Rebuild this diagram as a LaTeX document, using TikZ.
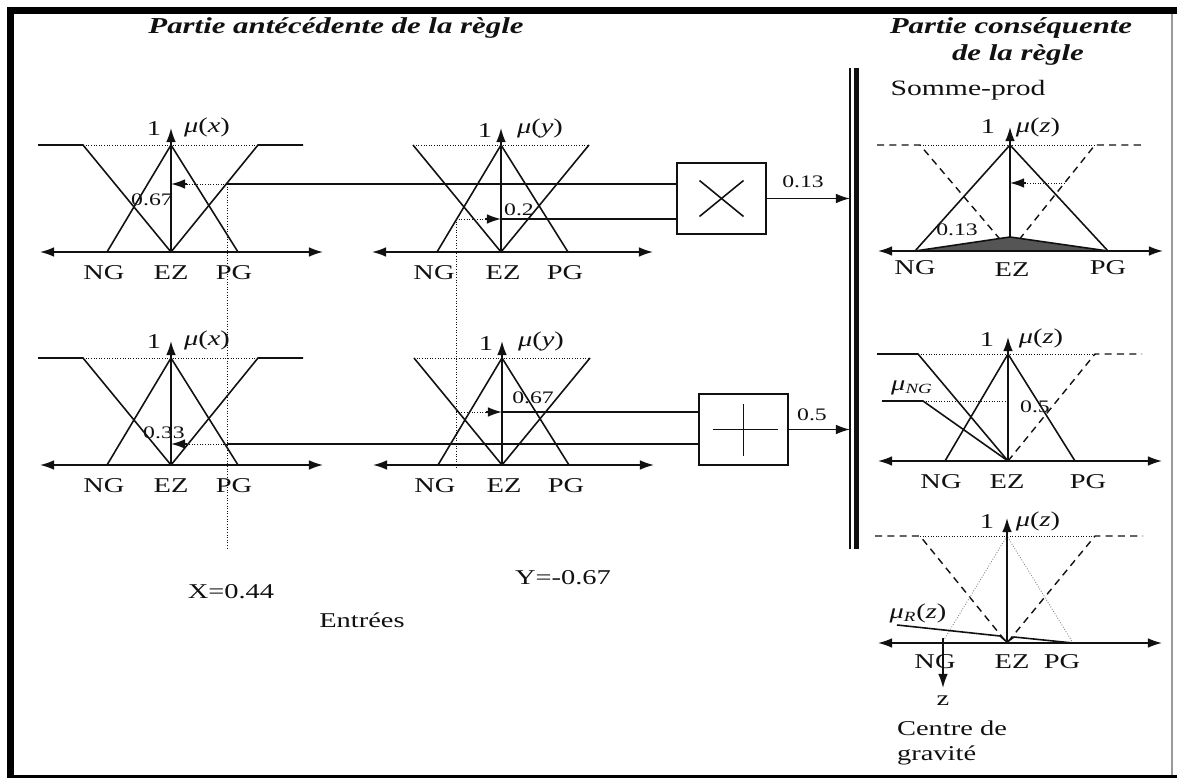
\documentclass[tikz,border=0pt]{standalone}
\usepackage{fontspec}
\setmainfont{Liberation Serif}[FakeStretch=1.35]
\usetikzlibrary{arrows.meta,positioning}
\definecolor{ink}{HTML}{111111}
\definecolor{shade}{HTML}{555555}
\definecolor{rim}{HTML}{9A9A9A}
\newcommand{\mem}[1]{\textit{μ}(\textit{#1})}

\begin{document}
\begin{tikzpicture}[x=0.02cm,y=0.02cm,>={Latex[length=8pt,width=5.5pt]},ink,
  mf/.style={line width=.9pt},
  axis/.style={line width=.9pt,<->},
  hint/.style={densely dotted,line width=.5pt},
  dsh/.style={line width=.8pt,dash pattern=on 4pt off 3pt},
  opbox/.style={draw,line width=.9pt,minimum width=1.78cm,minimum height=1.42cm,inner sep=0pt},
  lbl/.style={font=\fontsize{12}{14}\selectfont,inner sep=1pt},
  num/.style={font=\fontsize{10}{12}\selectfont,inner sep=1pt},
  ttl/.style={font=\fontsize{13}{15}\selectfont\bfseries\itshape,inner sep=1pt}]
\useasboundingbox (0,0) rectangle (1177,778);
\fill[black] (7,0) rectangle (14,771);
\fill[black] (7,764) rectangle (1177,771);
\fill[black] (7,0) rectangle (1177,3);
\draw[rim,line width=.6pt] (1172,3)--(1172,764);

\node[ttl] (t-ante) at (336,750) {Partie antécédente de la règle};
\node[ttl] (t-cons) at (1011,750) {Partie conséquente};
\node[ttl] (t-cons2) at (1018,723) {de la règle};

% antecedent, x
\foreach \px/\py/\k in {171/526/a,171/313/b}{
\begin{scope}[shift={(\px,\py)}]
  \draw[mf] (-133,107)--(-88,107)--(0,0)--(87,107)--(132,107);
  \draw[mf] (-64,0)--(0,107)--(67,0);
  \draw[hint] (-88,107)--(87,107);
  \draw[axis] (-131,0)--(152,0);
  \draw[mf,->] (0,0)--(0,124);
  \node[lbl] (one-x\k) at (-17,123) {1};
  \node[lbl] (mu-x\k) at (36,125) {\mem{x}};
  \node[lbl] (ng-x\k) at (-67,-21) {NG};
  \node[lbl] (ez-x\k) at (0,-21) {EZ};
  \node[lbl] (pg-x\k) at (63,-21) {PG};
\end{scope}}

% antecedent, y
\foreach \px/\py/\k in {501/526/a,502/313/b}{
\begin{scope}[shift={(\px,\py)}]
  \draw[mf] (-88,107)--(0,0)--(88,107);
  \draw[mf] (-64,0)--(0,107)--(67,0);
  \draw[hint] (-88,107)--(88,107);
  \draw[axis] (-129,0)--(152,0);
  \draw[mf,->] (0,0)--(0,124);
  \node[lbl] (one-y\k) at (-16,121) {1};
  \node[lbl] (mu-y\k) at (39,124) {\mem{y}};
  \node[lbl] (ng-y\k) at (-67,-21) {NG};
  \node[lbl] (ez-y\k) at (2,-21) {EZ};
  \node[lbl] (pg-y\k) at (64,-21) {PG};
\end{scope}}

\node[opbox] (prod) at (721.5,579.5) {};
\node[opbox] (sum) at (743.5,348.5) {};
\draw[mf] ([shift={(-22,-18)}]prod.center)--([shift={(22,18)}]prod.center);
\draw[mf] ([shift={(-22,18)}]prod.center)--([shift={(22,-18)}]prod.center);
\draw[mf] ([shift={(-31,0)}]sum.center)--([shift={(34,0)}]sum.center);
\draw[mf] ([shift={(0,-27)}]sum.center)--([shift={(0,25)}]sum.center);

\coordinate (xa) at (227,594);
\coordinate (ya) at (456,559);
\coordinate (xb) at (227,334);
\coordinate (yb) at (456,366);
\draw[hint] (xa)--(186,594);
\draw[mf,->] (187,594)--(171,594);
\draw[hint] (xa)--(227,228);
\draw[mf] (xa)--(xa -| prod.west);
\draw[hint] (ya)--(486,559);
\draw[mf,->] (485,559)--(501,559);
\draw[hint] (ya)--(456,310);
\draw[mf] (501,559)--(ya -| prod.west);
\draw[hint] (xb)--(186,334);
\draw[mf,->] (187,334)--(171,334);
\draw[mf] (xb)--(xb -| sum.west);
\draw[hint] (yb)--(487,366);
\draw[mf,->] (486,366)--(502,366);
\draw[mf] (502,366)--(yb -| sum.west);
\node[num] (v-xa) at (152,578) {0.67};
\node[num] (v-ya) at (519,568) {0.2};
\node[num] (v-xb) at (164,345) {0.33};
\node[num] (v-yb) at (533,380) {0.67};

% bar
\coordinate (bartop) at (850,710);
\draw[line width=.8pt] (850,229)--(bartop);
\draw[line width=3.4pt] (856.5,229)--(856.5,710);
\draw[mf,->] (prod.east)--(prod.east -| bartop);
\draw[mf,->] (sum.east)--(sum.east -| bartop);
\node[num] (v-prod) at (803,596) {0.13};
\node[num] (v-sum) at (812,363) {0.5};

\node[lbl] (xin) at (231,186) {X=0.44};
\node[lbl] (yin) at (563,200) {Y=-0.67};
\node[lbl] (entrees) at (362,158) {Entrées};
\node[lbl,font=\fontsize{12.5}{14}\selectfont] (somme) at (968,688) {Somme-prod};

% consequent, prod
\begin{scope}[shift={(1010,527)}]
  \draw[dsh] (-133,106)--(-90,106)--(0,0)--(85,106)--(132,106);
  \draw[hint] (-90,106)--(85,106);
  \draw[mf] (-95,0)--(0,106)--(98,0);
  \draw[mf,fill=shade] (-95,0)--(0,14)--(98,0)--cycle;
  \draw[axis] (-132,0)--(153,0);
  \draw[mf,->] (0,14)--(0,124);
  \draw[hint] (55,68)--(15,68);
  \draw[mf,->] (16,68)--(0,68);
  \node[lbl] (one-za) at (-22,124) {1};
  \node[lbl] (mu-za) at (28,124) {\mem{z}};
  \node[num] (v-za) at (-53,21) {0.13};
  \node[lbl] (ng-za) at (-95,-17) {NG};
  \node[lbl] (ez-za) at (2,-19) {EZ};
  \node[lbl] (pg-za) at (98,-17) {PG};
\end{scope}

% consequent, sum
\begin{scope}[shift={(1008,317)}]
  \draw[mf] (-131,107)--(-90,107)--(0,0);
  \draw[mf] (-126,60)--(-85,60)--(0,0);
  \draw[hint] (-85,60)--(0,60);
  \draw[hint] (-90,107)--(87,107);
  \draw[dsh] (0,0)--(87,107)--(134,107);
  \draw[mf] (-63,0)--(0,107)--(67,0);
  \draw[axis] (-130,0)--(154,0);
  \draw[mf,->] (0,0)--(0,124);
  \node[lbl] (one-zb) at (-21,121) {1};
  \node[lbl] (mu-zb) at (33,123) {\mem{z}};
  \node[lbl] (mung) at (-96,73) {\textit{μ}\textsubscript{\textit{NG}}};
  \node[num] (v-zb) at (27,54) {0.5};
  \node[lbl] (ng-zb) at (-67,-21) {NG};
  \node[lbl] (ez-zb) at (-1,-21) {EZ};
  \node[lbl] (pg-zb) at (80,-21) {PG};
\end{scope}

% defuzzification
\begin{scope}[shift={(1007,135)}]
  \draw[dsh] (-132,107)--(-87,107)--(0,0)--(88,107)--(136,107);
  \draw[hint] (-87,107)--(88,107);
  \draw[hint,gray] (-65,0)--(0,107)--(66,0);
  \draw[axis] (-129,0)--(155,0);
  \draw[mf,->] (0,0)--(0,125);
  \draw[mf] (-110,18)--(-7,7)--(0,1)--(7,6)--(66,0);
  \coordinate (cog) at (-64,5);
  \draw[mf,->] (cog)--(-64,-45) node[lbl,below=3pt] (zout) {z};
  \node[lbl] (one-zc) at (-20,121) {1};
  \node[lbl] (mu-zc) at (31,122) {\mem{z}};
  \node[lbl] (mur) at (-89,30) {\textit{μ}\textsubscript{\textit{R}}(\textit{z})};
  \node[lbl] (ng-zc) at (-72,-19) {NG};
  \node[lbl] (ez-zc) at (5,-19) {EZ};
  \node[lbl] (pg-zc) at (55,-19) {PG};
  \node[lbl,align=left,anchor=west] (cdg) at (-112,-100) {Centre de\\gravité};
\end{scope}
\end{tikzpicture}
\end{document}
